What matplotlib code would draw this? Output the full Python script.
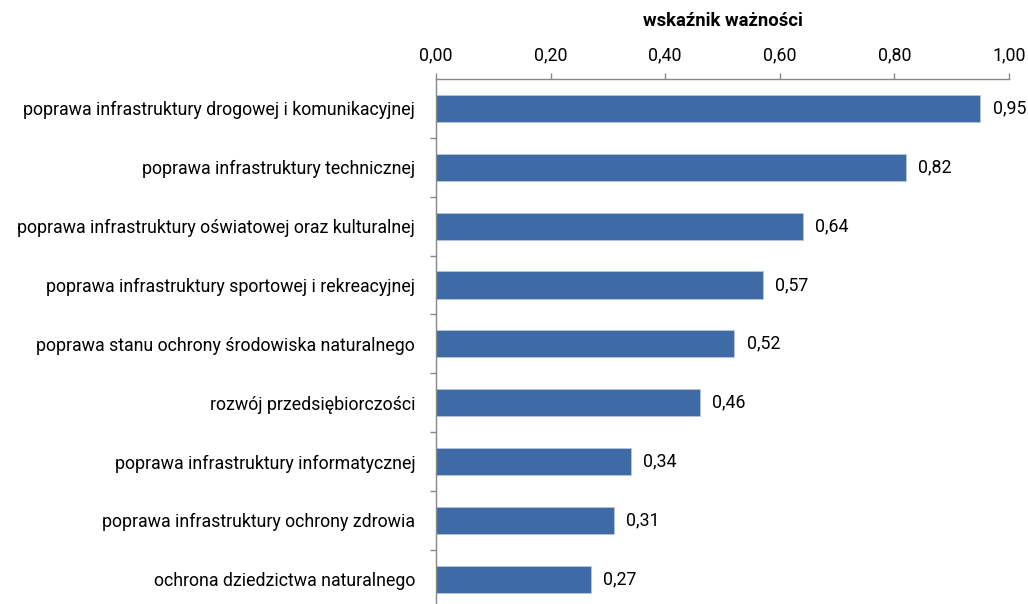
import numpy as np
import matplotlib.pyplot as plt
from matplotlib.ticker import FixedLocator

plt.rcParams['font.family'] = ['Roboto', 'DejaVu Sans']

# data
categories = ['poprawa infrastruktury drogowej i komunikacyjnej',
              'poprawa infrastruktury technicznej',
              'poprawa infrastruktury oświatowej oraz kulturalnej',
              'poprawa infrastruktury sportowej i rekreacyjnej',
              'poprawa stanu ochrony środowiska naturalnego',
              'rozwój przedsiębiorczości',
              'poprawa infrastruktury informatycznej',
              'poprawa infrastruktury ochrony zdrowia',
              'ochrona dziedzictwa naturalnego']
values = [0.95, 0.82, 0.64, 0.57, 0.52, 0.46, 0.34, 0.31, 0.27]
xticks = [0.0, 0.2, 0.4, 0.6, 0.8, 1.0]

bar_color = '#3E6BA5'
axis_color = '#888888'
fs = 12.8

fig = plt.figure(figsize=(10.28, 6.04), dpi=100)
ax = fig.add_axes([436/1028, 0.0, (1009-436)/1028, 1 - 79/604])

y = np.arange(len(categories))
ax.barh(y, values, height=0.46, color=bar_color, edgecolor='#B5C7E0', linewidth=0.6)

for yi, v in zip(y, values):
    ax.text(v + 0.022, yi, f'{v:.2f}'.replace('.', ','), va='center', ha='left',
            fontsize=fs, color='black')

ax.set_xlim(0, 1.0)
ax.set_ylim(8.42, -0.5)

ax.xaxis.tick_top()
ax.xaxis.set_label_position('top')
ax.set_xticks(xticks)
ax.set_xticklabels([f'{t:.2f}'.replace('.', ',') for t in xticks], fontsize=fs)
ax.set_xlabel('wskaźnik ważności', fontsize=13.3, fontweight='bold', labelpad=15)
ax.tick_params(axis='x', direction='out', length=4.3, width=1, color=axis_color, pad=6)

ax.set_yticks(y)
ax.set_yticklabels(categories, fontsize=fs)
ax.yaxis.set_minor_locator(FixedLocator(np.arange(0.5, len(categories) - 0.5, 1)))
ax.tick_params(axis='y', which='major', length=0, pad=15)
ax.tick_params(axis='y', which='minor', direction='out', length=4.3, width=1, color=axis_color)

for side in ['right', 'bottom']:
    ax.spines[side].set_visible(False)
for side in ['top', 'left']:
    ax.spines[side].set_color(axis_color)
    ax.spines[side].set_linewidth(1)

fig.savefig('out.png', dpi=100)
